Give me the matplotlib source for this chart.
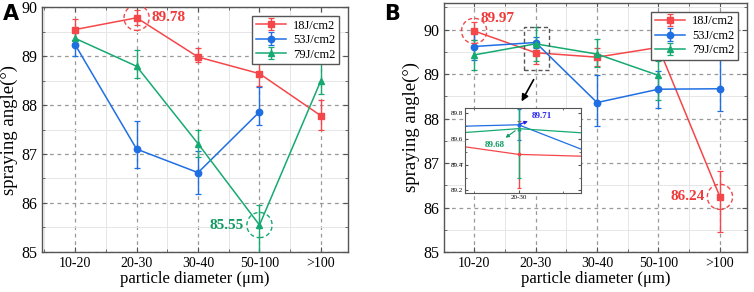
#!/usr/bin/env python

'''Spraying angle vs particle diameter, two panels with an inset'''

import matplotlib
matplotlib.use('Agg')
from matplotlib.pyplot import figure
from matplotlib.ticker import MultipleLocator
import numpy as np

categories = ['10-20', '20-30', '30-40', '50-100', '>100']
labels = ['18J/cm2', '53J/cm2', '79J/cm2']

# panel A
a_18 = [89.54, 89.78, 88.98, 88.64, 87.78]
a_18_lo = [0.22, 0.15, 0.10, 0.25, 0.28]
a_18_hi = [0.22, 0.15, 0.18, 0.24, 0.33]
a_53 = [89.23, 87.10, 86.62, 87.86, np.nan]
a_53_lo = [0.23, 0.38, 0.44, 0.26, 0]
a_53_hi = [0.10, 0.57, 0.44, 0.50, 0]
a_79 = [89.36, 88.79, 87.21, 85.55, 88.50]
a_79_lo = [0.10, 0.23, 0.27, 0.60, 0.28]
a_79_hi = [0.12, 0.33, 0.27, 0.41, 0.36]

# panel B
b_18 = [89.97, 89.48, 89.38, 89.60, 86.24]
b_18_lo = [0.20, 0.26, 0.20, 0.08, 0.79]
b_18_hi = [0.20, 0.26, 0.20, 0.08, 0.57]
b_53 = [89.62, 89.71, 88.36, 88.66, 88.67]
b_53_lo = [0.30, 0.12, 0.52, 0.42, 0.49]
b_53_hi = [0.30, 0.12, 0.62, 0.42, 0.70]
b_79 = [89.43, 89.68, 89.45, 88.97, np.nan]
b_79_lo = [0.33, 0.38, 0.30, 0.55, 0]
b_79_hi = [0.33, 0.38, 0.33, 0.33, 0]

colors = ['#F5474A', '#1F6FE3', '#16AA72']
markers = ['s', 'o', '^']
serif = 'Liberation Serif'


def series(ax, data, ms=4.6, lw=1.1, cap=2.5):
    x = np.arange(len(categories))
    for (y, lo, hi), c, m, lab in zip(data, colors, markers, labels):
        y = np.array(y)
        ok = ~np.isnan(y)
        ax.errorbar(x[ok], y[ok], yerr=[np.array(lo)[ok], np.array(hi)[ok]],
                    color=c, marker=m, ms=ms, lw=lw, elinewidth=1.0,
                    capsize=cap, capthick=0.9, label=lab)


def style(ax, ylim, xlim):
    ax.set_xlim(*xlim)
    ax.set_ylim(*ylim)
    ax.set_xticks(range(len(categories)))
    ax.set_xticklabels(categories, fontfamily=serif, fontsize=10)
    ax.yaxis.set_major_locator(MultipleLocator(1))
    ax.xaxis.set_minor_locator(MultipleLocator(0.5))
    ax.yaxis.set_minor_locator(MultipleLocator(0.5))
    for t in ax.get_yticklabels():
        t.set_fontfamily(serif)
        t.set_fontsize(11.5)
    ax.tick_params(which='both', direction='in', top=True, right=True, color='#555555')
    ax.tick_params(which='major', length=3.5)
    ax.tick_params(which='minor', length=2)
    ax.grid(which='major', ls=(0, (3, 3)), color='#999999', lw=0.9)
    ax.grid(which='minor', ls='-', color='#E6E6E6', lw=0.7)
    ax.set_axisbelow(True)
    for s in ax.spines.values():
        s.set_color('#555555')
        s.set_linewidth(1.0)
    ax.set_xlabel('particle diameter (\u03bcm)', fontfamily=serif, fontsize=12, labelpad=1)
    ax.set_ylabel('spraying angle(\u00b0)', fontfamily=serif, fontsize=13.5, labelpad=2)
    ax.legend(loc='upper right', prop={'family': serif, 'size': 9}, fancybox=False,
              edgecolor='#555555', framealpha=1, handlelength=2.4, borderpad=0.3,
              labelspacing=0.2, borderaxespad=0.7, handletextpad=0.6)


def mark(ax, x, y, c):
    ax.scatter([x], [y], s=330, facecolors='none', edgecolors=c, linestyles=(0, (3, 2)),
               linewidths=1.0, zorder=5)


fig = figure(figsize=(7.54, 2.92), dpi=100)

axA = fig.add_axes([0.0557, 0.137, 0.4058, 0.839])
series(axA, [(a_18, a_18_lo, a_18_hi), (a_53, a_53_lo, a_53_hi), (a_79, a_79_lo, a_79_hi)])
style(axA, (85, 90), (-0.54, 4.44))
mark(axA, 1, a_18[1], colors[0])
mark(axA, 3, a_79[3], colors[2])
axA.text(1.25, a_18[1], '89.78', color='#F03A3A', fontweight='bold', fontfamily=serif,
         fontsize=11, va='center', ha='left')
axA.text(2.75, a_79[3], '85.55', color='#129A62', fontweight='bold', fontfamily=serif,
         fontsize=11, va='center', ha='right')
fig.text(0.004, 0.985, 'A', fontsize=15, fontweight='bold', va='top', ha='left')

axB = fig.add_axes([0.5889, 0.137, 0.4018, 0.853])
series(axB, [(b_18, b_18_lo, b_18_hi), (b_53, b_53_lo, b_53_hi), (b_79, b_79_lo, b_79_hi)])
style(axB, (85, 90.6), (-0.49, 4.44))
mark(axB, 0, b_18[0], colors[0])
mark(axB, 4, b_18[4], colors[0])
axB.text(0.1, 90.1, '89.97', color='#F03A3A', fontweight='bold', fontfamily=serif,
         fontsize=11, va='bottom', ha='left')
axB.text(3.75, b_18[4], '86.24', color='#F03A3A', fontweight='bold', fontfamily=serif,
         fontsize=11, va='center', ha='right')
axB.add_patch(matplotlib.patches.Rectangle((0.81, 89.1), 0.41, 0.95, fill=False,
              ls=(0, (3, 2)), ec='#555555', lw=1.0, zorder=6))
axB.annotate('', xy=(0.75, 88.33), xytext=(0.99, 88.93),
             arrowprops=dict(arrowstyle='-|>', color='black', lw=1.2, mutation_scale=10))
fig.text(0.51, 0.985, 'B', fontsize=15, fontweight='bold', va='top', ha='left')

# inset zoom on 20-30
axI = fig.add_axes([0.6167, 0.339, 0.1539, 0.291])
series(axI, [(b_18, b_18_lo, b_18_hi), (b_53, b_53_lo, b_53_hi), (b_79, b_79_lo, b_79_hi)],
       ms=2, lw=0.9, cap=1.5)
axI.set_xlim(0.88, 1.14)
axI.set_ylim(89.18, 89.84)
axI.set_xticks([1])
axI.set_xticklabels(['20-30'], fontfamily=serif, fontsize=5)
axI.yaxis.set_major_locator(MultipleLocator(0.2))
axI.yaxis.set_minor_locator(MultipleLocator(0.1))
axI.xaxis.set_minor_locator(MultipleLocator(0.1))
for t in axI.get_yticklabels():
    t.set_fontfamily(serif)
    t.set_fontsize(5)
axI.tick_params(which='both', direction='in', top=True, right=True, pad=1.5, color='#555555')
axI.tick_params(which='major', length=2.5)
axI.tick_params(which='minor', length=1.5)
for s in axI.spines.values():
    s.set_color('#555555')
axI.annotate('89.71', xy=(1.0, b_53[1]), xytext=(1.03, 89.78), color='#2222EE',
             fontweight='bold', fontfamily=serif, fontsize=6.5, va='center', ha='left',
             arrowprops=dict(arrowstyle='<|-', color='#2222EE', lw=0.8, mutation_scale=5,
                             shrinkA=1, shrinkB=1))
axI.annotate('89.68', xy=(0.995, b_79[1] - 0.01), xytext=(0.925, 89.55), color='#129A62',
             fontweight='bold', fontfamily=serif, fontsize=6.5, va='center', ha='left',
             arrowprops=dict(arrowstyle='<|-', color='#129A62', lw=0.8, mutation_scale=5,
                             shrinkA=1, shrinkB=1))

fig.savefig('out.png', dpi=100)
